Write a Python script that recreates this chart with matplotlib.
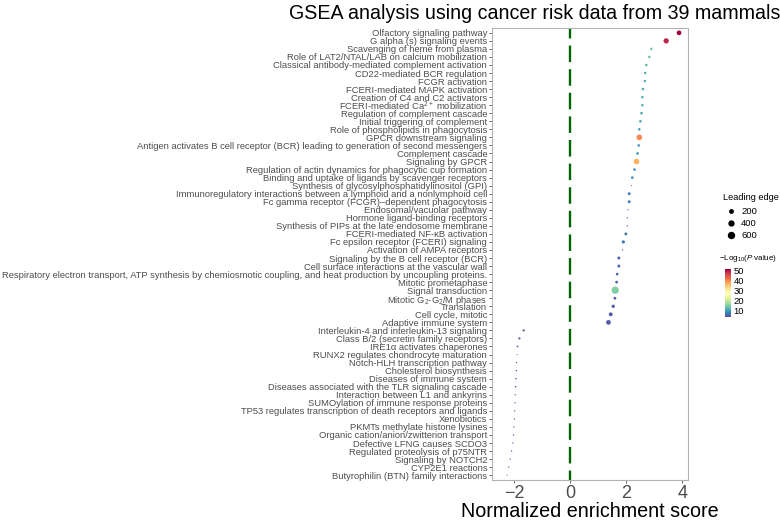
import matplotlib
matplotlib.use("Agg")
import matplotlib.pyplot as plt
import numpy as np
from matplotlib.lines import Line2D

plt.rcParams['font.family'] = ['Liberation Sans', 'DejaVu Sans']
plt.rcParams['mathtext.fontset'] = 'custom'
plt.rcParams['mathtext.rm'] = 'Liberation Sans'
plt.rcParams['mathtext.it'] = 'Liberation Sans:italic'
plt.rcParams['mathtext.bf'] = 'Liberation Sans:bold'

pathways = [
    "Olfactory signaling pathway",
    "G alpha (s) signaling events",
    "Scavenging of heme from plasma",
    "Role of LAT2/NTAL/LAB on calcium mobilization",
    "Classical antibody-mediated complement activation",
    "CD22-mediated BCR regulation",
    "FCGR activation",
    "FCERI-mediated MAPK activation",
    "Creation of C4 and C2 activators",
    "FCERI-mediated Ca$^{2+}$ mobilization",
    "Regulation of complement cascade",
    "Initial triggering of complement",
    "Role of phospholipids in phagocytosis",
    "GPCR downstream signaling",
    "Antigen activates B cell receptor (BCR) leading to generation of second messengers",
    "Complement cascade",
    "Signaling by GPCR",
    "Regulation of actin dynamics for phagocytic cup formation",
    "Binding and uptake of ligands by scavenger receptors",
    "Synthesis of glycosylphosphatidylinositol (GPI)",
    "Immunoregulatory interactions between a lymphoid and a nonlymphoid cell",
    "Fc gamma receptor (FCGR)\u2013dependent phagocytosis",
    "Endosomal/vacuolar pathway",
    "Hormone ligand-binding receptors",
    "Synthesis of PIPs at the late endosome membrane",
    "FCERI-mediated NF-\u03baB activation",
    "Fc epsilon receptor (FCERI) signaling",
    "Activation of AMPA receptors",
    "Signaling by the B cell receptor (BCR)",
    "Cell surface interactions at the vascular wall",
    "Respiratory electron transport, ATP synthesis by chemiosmotic coupling, and heat production by uncoupling proteins.",
    "Mitotic prometaphase",
    "Signal transduction",
    "Mitotic G$_2$-G$_2$/M phases",
    "Translation",
    "Cell cycle, mitotic",
    "Adaptive immune system",
    "Interleukin-4 and interleukin-13 signaling",
    "Class B/2 (secretin family receptors)",
    "IRE1\u03b1 activates chaperones",
    "RUNX2 regulates chondrocyte maturation",
    "Notch-HLH transcription pathway",
    "Cholesterol biosynthesis",
    "Diseases of immune system",
    "Diseases associated with the TLR signaling cascade",
    "Interaction between L1 and ankyrins",
    "SUMOylation of immune response proteins",
    "TP53 regulates transcription of death receptors and ligands",
    "Xenobiotics",
    "PKMTs methylate histone lysines",
    "Organic cation/anion/zwitterion transport",
    "Defective LFNG causes SCDO3",
    "Regulated proteolysis of p75NTR",
    "Signaling by NOTCH2",
    "CYP2E1 reactions",
    "Butyrophilin (BTN) family interactions",
]

nes = [3.88, 3.42, 2.89, 2.82, 2.71, 2.67, 2.66, 2.59, 2.57, 2.57,
       2.54, 2.50, 2.46, 2.46, 2.44, 2.40, 2.36, 2.29, 2.21, 2.18,
       2.10, 2.10, 2.06, 2.03, 2.03, 1.98, 1.89, 1.86, 1.73, 1.73,
       1.67, 1.65, 1.60, 1.59, 1.53, 1.44, 1.36,
       -1.67, -1.82, -1.89, -1.90, -1.92, -1.93, -1.95, -1.96, -1.97,
       -1.98, -1.99, -2.00, -2.02, -2.03, -2.05, -2.10, -2.15, -2.20, -2.26]

leading_edge = [370, 470, 110, 110, 110, 100, 100, 110, 100, 100,
                110, 110, 110, 540, 110, 120, 540, 110, 110, 20,
                140, 140, 30, 30, 30, 140, 170, 30, 150, 150,
                120, 130, 900, 130, 190, 250, 370,
                80, 80, 50, 20, 30, 40, 40, 40, 30,
                30, 30, 30, 30, 30, 30, 30, 30, 30, 20]

neglog10p = [52, 49, 14, 13, 12, 11, 11, 10.5, 10.5, 10.5,
             10, 10, 9.5, 40, 9, 9.5, 37, 8, 7.5, 4,
             7, 7, 5.5, 5.5, 5.5, 6.5, 6.5, 5, 5, 5,
             5, 5, 15, 4, 4, 4, 4,
             3.5, 3.5, 3.5, 3.5, 3.5, 3.5, 3.5, 3.5, 3.5,
             3.5, 3.5, 3.5, 3.5, 3.5, 3.5, 3.5, 3.5, 3.5, 3.5]

size_legend = [200, 400, 600]
cbar_ticks = [10, 20, 30, 40, 50]

SIZE_K = 0.031
vmin, vmax = 3, 52

fig = plt.figure(figsize=(7.8, 5.21), dpi=100)
ax = fig.add_axes([492/780, 1-480/521, 196/780, 452/521])

n = len(pathways)
y = np.arange(n)[::-1]
sc = ax.scatter(nes, y, s=np.array(leading_edge)*SIZE_K, c=neglog10p,
                cmap='Spectral_r', vmin=vmin, vmax=vmax, linewidths=0, zorder=3)
ax.axvline(0, color='#006400', lw=1.7, linestyle=(3, (7, 3)), zorder=2)

ax.set_xlim(-2.8, 4.2)
ax.set_ylim(-0.6, n-0.4)
ax.set_yticks(y)
ax.set_yticklabels(pathways, fontsize=6.75, color='#4d4d4d')
ax.set_xticks([-2, 0, 2, 4])
ax.set_xticklabels(['\u22122', '0', '2', '4'], fontsize=13, color='#4d4d4d')
ax.tick_params(axis='y', length=2.5, width=0.6, color='#4d4d4d', pad=1)
ax.tick_params(axis='x', length=2.5, width=0.6, color='#4d4d4d', pad=1)
for sp in ax.spines.values():
    sp.set_color('#b3b3b3')
    sp.set_linewidth(0.8)
ax.set_xlabel('Normalized enrichment score', fontsize=14.2, labelpad=0)

fig.text(0.686, 0.975, 'GSEA analysis using cancer risk data from 39 mammals',
         ha='center', va='center', fontsize=14.1)

# size legend
fig.text(723/780, 1-197/521, 'Leading edge', fontsize=6.6, va='center')
for i, v in enumerate(size_legend):
    yy = 211 + i*12
    lax_y = 1 - yy/521
    fig.add_artist(Line2D([731/780], [lax_y], marker='o', color='black',
                          markersize=np.sqrt(v*SIZE_K), linestyle='none',
                          transform=fig.transFigure))
    fig.text(741/780, lax_y, str(v), fontsize=6.8, va='center')

# colorbar
fig.text(719/780, 1-259/521, '\u2212Log$_{10}$($\\mathit{P}$ value)', fontsize=5.8, va='center')
cax = fig.add_axes([725/780, 1-317/521, 6/780, 48/521])
cb = fig.colorbar(sc, cax=cax, ticks=cbar_ticks)
cb.outline.set_visible(False)
cb.ax.tick_params(length=0, labelsize=6.8, pad=2)

fig.savefig('out.png', dpi=100)
